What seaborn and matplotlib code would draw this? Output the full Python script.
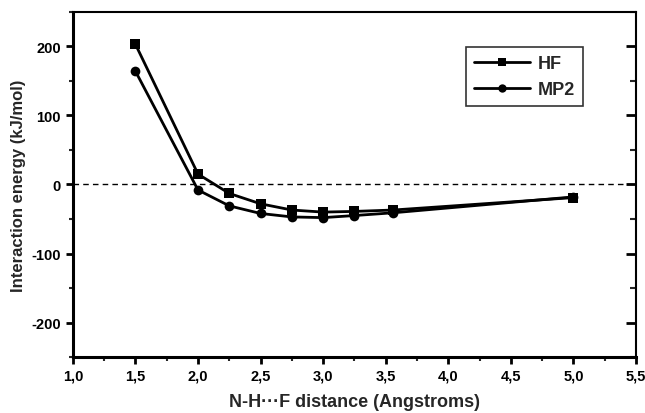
import numpy as np
import pandas as pd
import matplotlib
matplotlib.use("Agg")
import matplotlib.pyplot as plt
from matplotlib.ticker import MultipleLocator, FuncFormatter
import seaborn as sns

# dati
distanza = [1.5, 2.0, 2.25, 2.5, 2.75, 3.0, 3.25, 3.56, 5.0]
energia_hf = [203, 15, -13, -28, -37, -40, -39, -37, -19]
energia_mp2 = [164, -8, -31, -42, -47, -48, -45, -41, -18]
serie = ["HF", "MP2"]

df = pd.DataFrame({
    "x": distanza * 2,
    "y": energia_hf + energia_mp2,
    "metodo": ["HF"] * len(distanza) + ["MP2"] * len(distanza),
})

sns.set_style("ticks")
plt.rcParams["font.family"] = ["Liberation Sans", "DejaVu Sans"]
plt.rcParams["font.weight"] = "bold"
plt.rcParams["axes.unicode_minus"] = False

fig = plt.figure(figsize=(6.45, 4.14), dpi=100)
ax = fig.add_axes([0.113, 0.135, 0.873, 0.834])

ax.axhline(0, color="black", lw=1, ls=(0, (4, 3)), zorder=1)
sns.lineplot(data=df, x="x", y="y", hue="metodo", style="metodo",
             palette={"HF": "black", "MP2": "black"},
             markers={"HF": "s", "MP2": "o"}, dashes=False,
             markersize=7, linewidth=2, markeredgewidth=0, ax=ax)

ax.set_xlim(1.0, 5.5)
ax.set_ylim(-250, 250)
ax.xaxis.set_major_locator(MultipleLocator(0.5))
ax.xaxis.set_minor_locator(MultipleLocator(0.25))
ax.yaxis.set_major_locator(MultipleLocator(100))
ax.yaxis.set_minor_locator(MultipleLocator(50))
ax.set_yticks([-200, -100, 0, 100, 200])
ax.xaxis.set_major_formatter(FuncFormatter(lambda v, p: f"{v:.1f}".replace(".", ",")))

for s in ax.spines.values():
    s.set_linewidth(1.5)
    s.set_color("black")
ax.spines["left"].set_linewidth(2.2)
ax.spines["bottom"].set_linewidth(2.2)

ax.tick_params(axis="both", which="major", direction="out", length=5, width=2,
               labelsize=10.5, colors="black")
ax.tick_params(axis="both", which="minor", direction="out", length=3, width=1.5)
ax.tick_params(axis="y", which="both", right=True, labelright=False)
# tick a destra verso l'interno
for t in ax.yaxis.get_major_ticks():
    t.tick2line.set_marker(matplotlib.lines.TICKLEFT)
    t.tick2line.set_markersize(7)
for t in ax.yaxis.get_minor_ticks():
    t.tick2line.set_marker(matplotlib.lines.TICKLEFT)
    t.tick2line.set_markersize(4)

ax.set_xlabel("N-H\u00b7\u00b7\u00b7F distance (Angstroms)", fontsize=13, fontweight="bold", labelpad=7)
ax.set_ylabel("Interaction energy (kJ/mol)", fontsize=12, fontweight="bold")

leg = ax.legend(title=None, loc="upper right", bbox_to_anchor=(0.906, 0.899),
                borderaxespad=0, fontsize=13, handlelength=3.1, handletextpad=0.4,
                frameon=True, fancybox=False, borderpad=0.45, labelspacing=0.5)
leg.get_frame().set_edgecolor("black")
leg.get_frame().set_linewidth(1.2)
for txt in leg.get_texts():
    txt.set_fontweight("bold")
for h in leg.legend_handles:
    h.set_markersize(6)

fig.savefig("out.png", dpi=100)
